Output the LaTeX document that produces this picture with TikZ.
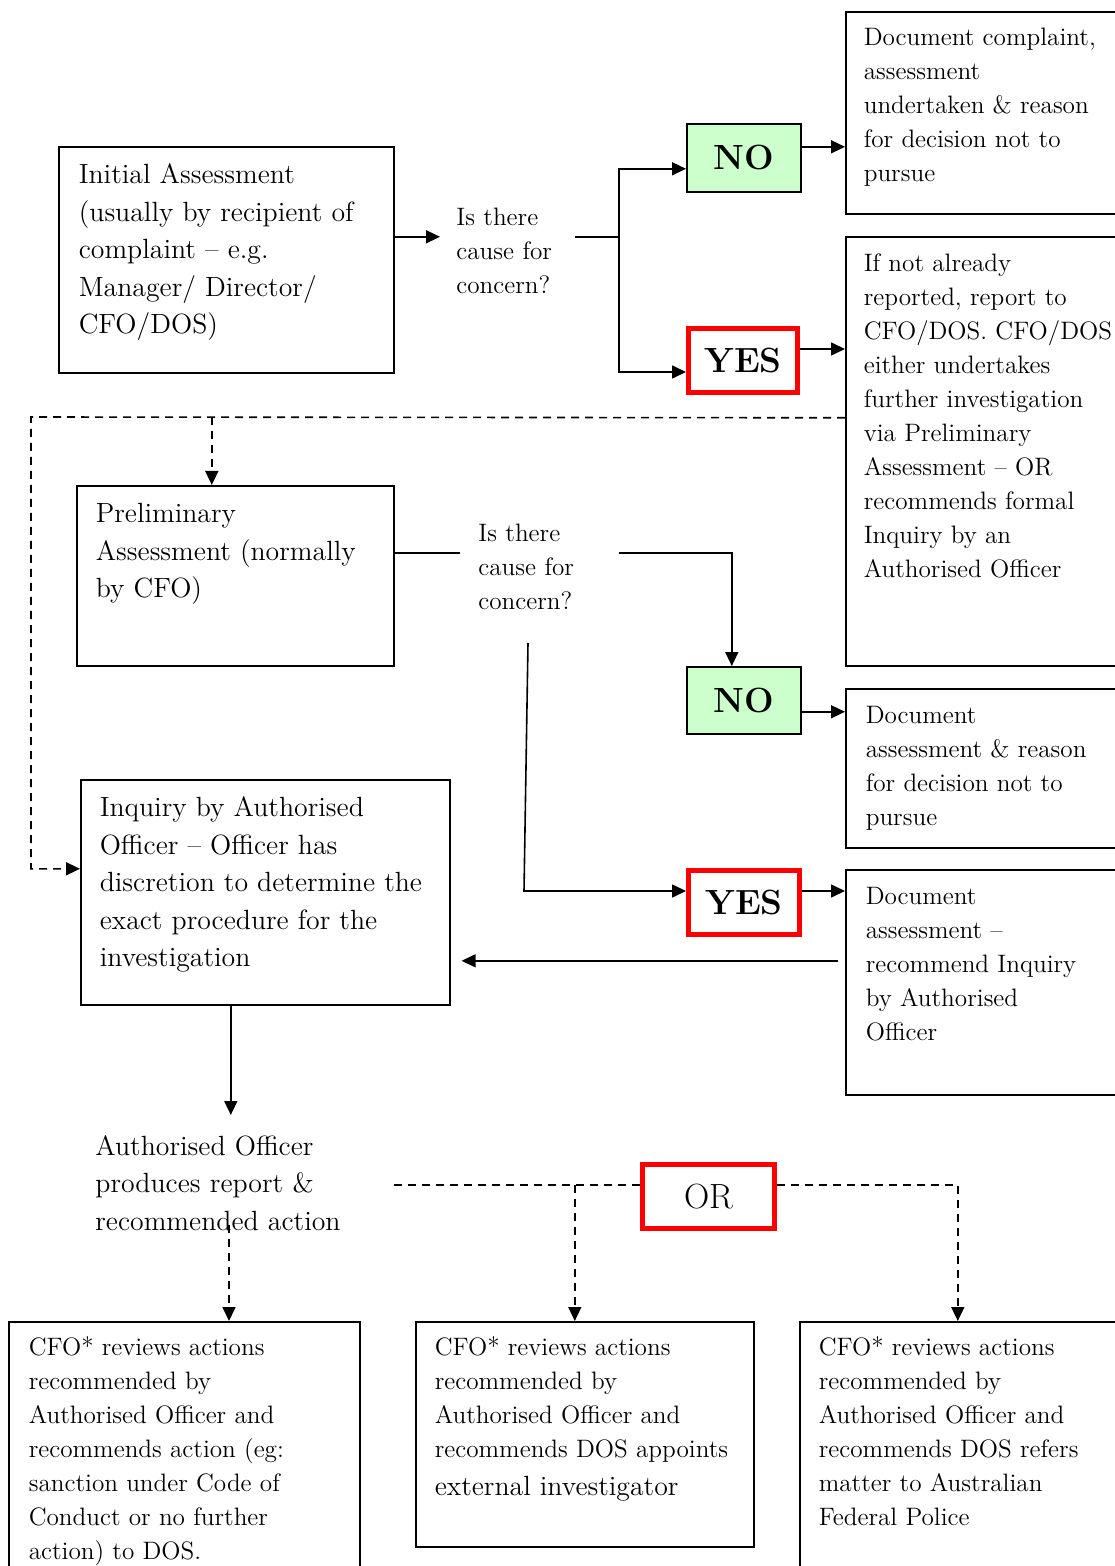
\documentclass[tikz,border=0pt]{standalone}
\usepackage{tikz}
\usetikzlibrary{arrows.meta}

\definecolor{nogreen}{HTML}{CCFFCC}
\newcommand{\txtS}{\fontsize{12.6}{17}\selectfont}
\newcommand{\txtL}{\fontsize{13.9}{18.75}\selectfont}
\newcommand{\boxtext}[4]{\parbox[c][#2][t]{#1}{\raggedright\rule{0pt}{#3}#4}}

\begin{document}
\begin{tikzpicture}[x=0.5pt,y=-0.5pt,
	box/.style={draw, line width=0.8pt, anchor=north west, inner ysep=0pt},
	ans/.style={draw, line width=0.8pt, anchor=north west, inner sep=0pt, minimum width=57pt, minimum height=34pt, font=\fontsize{17.5}{20}\selectfont\bfseries},
	nobox/.style={ans, fill=nogreen},
	yesbox/.style={ans, draw=red, line width=2.5pt, minimum width=54.5pt, minimum height=32pt},
	ques/.style={anchor=north west, inner ysep=0pt, align=left, font=\txtS},
	arr/.style={line width=0.8pt, -{Triangle[length=7pt,width=6.5pt]}},
	dline/.style={line width=0.8pt, dash pattern=on 4pt off 3pt},
	darr/.style={arr, dline}]
			\useasboundingbox (0,0) rectangle (1114,1566);
			% boxes
			\node[box, inner xsep=10pt] (init) at (58,146) {\txtL\boxtext{147.5pt}{113pt}{18.5pt}{Initial Assessment\\(usually by recipient of\\complaint -- e.g.\\Manager/ Director/\\CFO/DOS)}};
			\node[box, inner xsep=9pt] (doc1) at (845,11) {\txtS\boxtext{122pt}{101pt}{17pt}{Document complaint,\\assessment\\undertaken \& reason\\for decision not to\\pursue}};
			\node[box, inner xsep=9pt] (report) at (845,236) {\txtS\boxtext{122pt}{214.5pt}{17.5pt}{If not already\\reported, report to\\\mbox{CFO/DOS.\ CFO/DOS}\\either undertakes\\further investigation\\via Preliminary\\Assessment -- OR\\recommends formal\\Inquiry by an\\Authorised Officer}};
			\node[box, inner xsep=9.5pt] (pre) at (76,485) {\txtL\boxtext{139.5pt}{90pt}{18.5pt}{Preliminary\\Assessment (normally\\by CFO)}};
			\node[box, inner xsep=10pt] (doc2) at (845,688) {\txtS\boxtext{120pt}{79.5pt}{17.5pt}{Document\\assessment \& reason\\for decision not to\\pursue}};
			\node[box, inner xsep=10pt] (doc3) at (845,869) {\txtS\boxtext{120pt}{112.5pt}{17.5pt}{Document\\assessment --\\recommend Inquiry\\by Authorised\\Officer}};
			\node[box, inner xsep=9.5pt] (inq) at (80,779) {\txtL\boxtext{165.5pt}{112.5pt}{18.5pt}{Inquiry by Authorised\\Officer -- Officer has\\discretion to determine the\\exact procedure for the\\investigation}};
			\node[box, inner xsep=10pt] (out1) at (8,1321) {\txtS\boxtext{155.5pt}{130pt}{17pt}{CFO* reviews actions\\recommended by\\Authorised Officer and\\recommends action (eg:\\sanction under Code of\\Conduct or no further\\action) to DOS.}};
			\node[box, inner xsep=9.5pt] (out2) at (415,1321) {\txtS\boxtext{150pt}{112.5pt}{17pt}{CFO* reviews actions\\recommended by\\Authorised Officer and\\recommends DOS appoints\par{\txtL external investigator\par}}};
			\node[box, inner xsep=9.5pt] (out3) at (799,1321) {\txtS\boxtext{141pt}{130pt}{17pt}{CFO* reviews actions\\recommended by\\Authorised Officer and\\recommends DOS refers\\matter to Australian\\Federal Police}};
			% answers
			\node[nobox] (no1) at (686,123) {NO};
			\node[yesbox] (yes1) at (686,326) {YES};
			\node[nobox, minimum height=33.5pt] (no2) at (686,666) {NO};
			\node[yesbox, minimum width=55.5pt] (yes2) at (686,868) {YES};
			\node[yesbox, minimum width=66pt, font=\fontsize{17.5}{20}\selectfont] (or) at (640,1162) {OR};
			% free text
			\node[ques, inner xsep=8pt, text width=51pt] (q1) at (440,208) {Is there\\cause for\\concern?};
			\node[ques, inner xsep=9pt, text width=61pt] (q2) at (460,524) {Is there\\cause for\\concern?};
			\node[ques, inner xsep=10pt, inner ysep=10pt, text width=139pt, font=\txtL] (rep) at (75,1115) {Authorised Officer\\produces report \&\\recommended action};
			% first decision
			\draw[arr] ([yshift=11.5pt]init.east) -- ([yshift=11.5pt]init.east -| q1.west);
			\draw[arr] ([yshift=11.5pt]init.east -| q1.east) -- ++(22pt,0pt) |- ([yshift=-5.5pt]no1.west);
			\draw[arr] ([yshift=11.5pt]init.east -| q1.east) ++(22pt,0pt) |- ([yshift=-5.75pt]yes1.west);
			\draw[arr] ([yshift=5.5pt]no1.east) -- ([yshift=5.5pt]no1.east -| doc1.west);
			\draw[arr] ([yshift=5.75pt]yes1.east) -- ([yshift=5.75pt]yes1.east -| report.west);
			% dashed route
			\coordinate (dl) at (31,417);
			\draw[darr] ([yshift=16.75pt]report.west) -- (dl) |- ([yshift=11.75pt]inq.west);
			\draw[darr] ([xshift=-11.75pt]pre.north |- dl) -- ([xshift=-11.75pt]pre.north);
			% second decision
			\draw[line width=0.8pt] ([yshift=11.5pt]pre.east) -- ([yshift=11.5pt]pre.east -| q2.west);
			\draw[arr] ([yshift=11.5pt]pre.east -| q2.east) -| ([xshift=-6pt]no2.north);
			\coordinate (q2foot) at (528,643);
			\coordinate (q2bend) at (524,891);
			\draw[arr] (q2foot) -- (q2bend) -- (q2bend -| yes2.west);
			\draw[arr] ([yshift=-5.75pt]no2.east) -- ([yshift=-5.75pt]no2.east -| doc2.west);
			\draw[arr] ([yshift=5.75pt]yes2.east) -- ([yshift=5.75pt]yes2.east -| doc3.west);
			\draw[arr, shorten >=5.5pt] ([xshift=-3.5pt,yshift=10.75pt]doc3.west) -- ([yshift=10.75pt]doc3.west -| inq.east);
			% inquiry outcome
			\draw[arr] ([xshift=-17.25pt]inq.south) -- ([xshift=-17.25pt]inq.south |- rep.north);
			\coordinate (repfoot) at (229,1225);
			\coordinate (orl) at ([yshift=5.75pt]or.west);
			\coordinate (orr) at ([yshift=5.75pt]or.east);
			\draw[darr] (repfoot) -- (repfoot |- out1.north);
			\draw[dline] (orl) -- (orl -| rep.east);
			\draw[darr] ([xshift=-5pt]out2.north |- orl) -- ([xshift=-5pt]out2.north);
			\draw[darr] (orr) -| ([xshift=-1pt]out3.north);
		\end{tikzpicture}
\end{document}
